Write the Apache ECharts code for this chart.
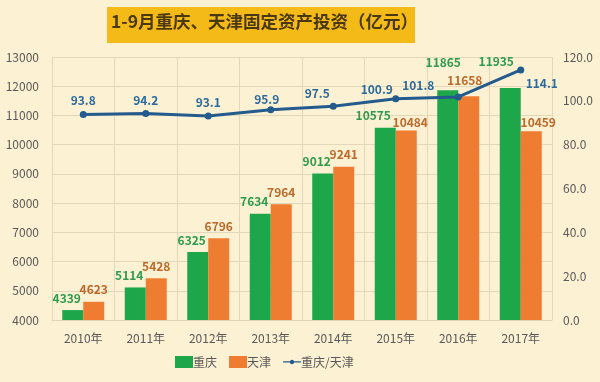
<!DOCTYPE html>
<html>
<head>
<meta charset="utf-8">
<script src="https://cdn.jsdelivr.net/npm/echarts@6/dist/echarts.min.js"></script>
<style>
html,body{margin:0;padding:0;background:#FDF1D3;}
#c{width:600px;height:382px;}
</style>
</head>
<body>
<div id="c"></div>
<script>
var titleText = '1-9月重庆、天津固定资产投资（亿元）';
var categories = ['2010年','2011年','2012年','2013年','2014年','2015年','2016年','2017年'];
var chongqing = [4339, 5114, 6325, 7634, 9012, 10575, 11865, 11935];
var tianjin = [4623, 5428, 6796, 7964, 9241, 10484, 11658, 10459];
var ratio = [93.8, 94.2, 93.1, 95.9, 97.5, 100.9, 101.8, 114.1];
var leftTicks = {min: 4000, max: 13000, interval: 1000};
var rightTicks = {min: 0, max: 120, interval: 20};

var font = '"Noto Sans CJK SC", "Liberation Sans", sans-serif';
var chart = echarts.init(document.getElementById('c'));

var ratioLabelShift = [[0,0],[0,0],[0,0],[-4,3],[-16,1],[-19,4],[-40,2],[21,27]];
var cqLabelShift = [[-6,0],[-6,0],[-6,0],[-6,0],[-6,0],[-12,0],[-4.5,-16],[-14,-15]];
var tjLabelShift = [[0,0],[0,0],[0,0],[0,0],[0,0],[4,4],[-4,-4],[7,3]];

var option = {
  backgroundColor: '#FDF1D3',
  textStyle: {fontFamily: font},
  graphic: [
    {type: 'rect', left: 107, top: 7, shape: {width: 308, height: 36}, style: {fill: '#F4BA18'}},
    {type: 'text', left: 111, top: 13, style: {text: titleText, font: 'bold 17.5px ' + font, fill: '#4A3812'}}
  ],
  grid: {left: 52, right: 48, top: 57, bottom: 62},
  legend: {
    left: 175, top: 356, padding: 0,
    itemWidth: 18, itemHeight: 12, itemGap: 12,
    textStyle: {color: '#595959', fontSize: 12, fontFamily: font, padding: [0,0,0,-5]},
    data: [
      {name: '重庆', icon: 'rect'},
      {name: '天津', icon: 'rect'},
      {name: '重庆/天津', icon: 'path://M0,5.3H18V6.7H0Z M11.2,6A2.2,2.2 0 1,1 11.19,5.9Z'}
    ]
  },
  xAxis: {
    type: 'category',
    data: categories,
    axisLine: {show: true, lineStyle: {color: '#E0D4B6'}},
    axisTick: {show: false},
    axisLabel: {color: '#595959', fontSize: 12, margin: 12},
    splitLine: {show: true, lineStyle: {color: '#E3D7BA'}}
  },
  yAxis: [
    {
      type: 'value', min: leftTicks.min, max: leftTicks.max, interval: leftTicks.interval,
      axisLine: {show: false}, axisTick: {show: false},
      axisLabel: {color: '#595959', fontSize: 12, margin: 13, formatter: function(v){return String(v);}},
      splitLine: {lineStyle: {color: '#E3D7BA'}}
    },
    {
      type: 'value', min: rightTicks.min, max: rightTicks.max, interval: rightTicks.interval,
      axisLine: {show: false}, axisTick: {show: false},
      axisLabel: {color: '#595959', fontSize: 12, margin: 11, formatter: function(v){return v.toFixed(1);}},
      splitLine: {show: false}
    }
  ],
  series: [
    {
      name: '重庆', type: 'bar', data: chongqing, barWidth: 21, barGap: '0%',
      itemStyle: {color: '#1DA64A'},
      label: {show: true, position: 'top', distance: 6, color: '#2E9B4E', fontWeight: 'bold', fontSize: 12},
      labelLayout: function(p){
        var s = cqLabelShift[p.dataIndex];
        return {dx: s[0], dy: s[1]};
      },
      labelLine: {show: false}
    },
    {
      name: '天津', type: 'bar', data: tianjin, barWidth: 21,
      itemStyle: {color: '#EE7D31'},
      label: {show: true, position: 'top', distance: 6, color: '#B96A2C', fontWeight: 'bold', fontSize: 12},
      labelLayout: function(p){
        var s = tjLabelShift[p.dataIndex];
        return {dx: s[0], dy: s[1]};
      },
      labelLine: {show: false}
    },
    {
      name: '重庆/天津', type: 'line', yAxisIndex: 1, data: ratio,
      symbol: 'circle', symbolSize: 7,
      lineStyle: {color: '#245B8D', width: 3},
      itemStyle: {color: '#245B8D'},
      label: {
        show: true, position: 'top', distance: 4, color: '#2C6A9C', fontWeight: 'bold', fontSize: 12,
        formatter: function(p){ return p.value.toFixed(1); }
      },
      labelLayout: function(p){
        var s = ratioLabelShift[p.dataIndex];
        return {dx: s[0], dy: s[1]};
      },
      labelLine: {show: false},
      z: 5
    }
  ]
};
chart.setOption(option);
</script>
</body>
</html>
